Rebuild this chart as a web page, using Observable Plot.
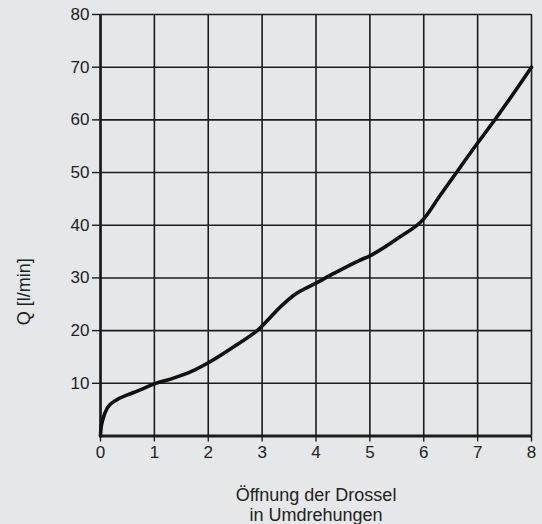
<!DOCTYPE html>
<html>
<head>
<meta charset="utf-8">
<script src="https://cdn.jsdelivr.net/npm/d3@7"></script>
<script src="https://cdn.jsdelivr.net/npm/@observablehq/plot@0.6"></script>
<style>
  html, body { margin: 0; padding: 0; background: #e6e7e8; }
</style>
</head>
<body>
<div id="chart"></div>
<script>
const turns = [0, 0.01, 0.04, 0.13, 0.29, 0.5, 0.75, 1.0, 1.3, 1.7, 2.0, 2.48, 2.94, 3.35, 3.6, 4.0, 4.34, 4.8, 5.0, 5.56, 6.0, 6.3, 6.53, 7.0, 7.34, 8.0];
const flow  = [0, 1.5, 3.0, 5.4, 6.8, 7.8, 8.8, 9.9, 10.8, 12.3, 13.9, 17.0, 20.3, 24.6, 26.8, 29.0, 30.9, 33.3, 34.2, 37.8, 41.2, 45.6, 48.9, 55.6, 60.3, 70.0];
const xTicks = [0, 1, 2, 3, 4, 5, 6, 7, 8];
const yTicks = [0, 10, 20, 30, 40, 50, 60, 70, 80];
const yTickLabels = [10, 20, 30, 40, 50, 60, 70, 80];
const xTitle1 = "Öffnung der Drossel";
const xTitle2 = "in Umdrehungen";
const yTitle = "Q [l/min]";

const data = turns.map((t, i) => ({turns: t, flow: flow[i]}));
const ink = "#1c1c1c";

const chart = Plot.plot({
  width: 542,
  height: 524,
  marginLeft: 100,
  marginRight: 11,
  marginTop: 14,
  marginBottom: 88.5,
  style: {background: "#e6e7e8", fontFamily: "Liberation Sans, Arial, sans-serif", fontSize: "17px", color: "#222"},
  x: {domain: [0, 8]},
  y: {domain: [0, 80]},
  marks: [
    Plot.gridX(xTicks, {stroke: ink, strokeOpacity: 1, strokeWidth: 1.6}),
    Plot.gridY(yTicks, {stroke: ink, strokeOpacity: 1, strokeWidth: 1.6}),
    Plot.ruleX([0], {stroke: ink, strokeWidth: 2.6}),
    Plot.ruleY([0], {stroke: ink, strokeWidth: 3}),
    Plot.axisX({ticks: xTicks, tickSize: 6, tickPadding: 4, label: null, stroke: ink, strokeWidth: 1.4, fill: "#222"}),
    Plot.axisY({ticks: yTickLabels, tickSize: 8, tickPadding: 3, label: null, stroke: ink, strokeWidth: 1.4, fill: "#222"}),
    Plot.line(data, {x: "turns", y: "flow", curve: "monotone-x", stroke: "#111", strokeWidth: 3.6}),
    Plot.text([xTitle1], {frameAnchor: "bottom", dy: 65, fontSize: 18, fill: "#222"}),
    Plot.text([xTitle2], {frameAnchor: "bottom", dy: 85, fontSize: 18, fill: "#222"}),
    Plot.text([yTitle], {frameAnchor: "left", rotate: -90, dx: -76, dy: 100, fontSize: 18, fill: "#222"})
  ]
});
document.getElementById("chart").appendChild(chart);
</script>
</body>
</html>
